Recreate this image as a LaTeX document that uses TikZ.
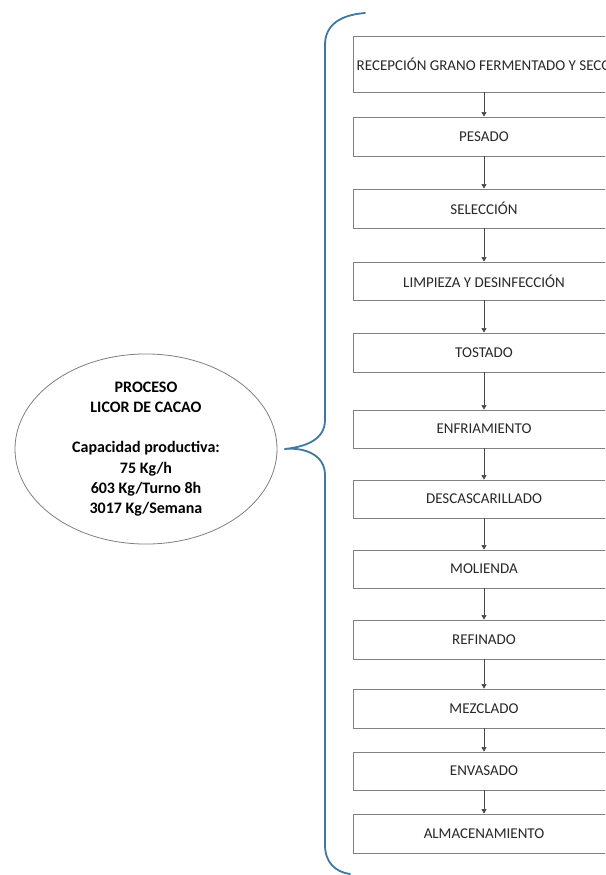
\documentclass[tikz,border=0pt]{standalone}
\usepackage{fontspec}
\setmainfont{Carlito}
\usetikzlibrary{shapes.geometric,arrows.meta}
\definecolor{bracecol}{RGB}{62,122,160}
\definecolor{boxcol}{RGB}{128,128,128}
\definecolor{txtcol}{RGB}{40,40,40}
\definecolor{arrcol}{RGB}{70,70,70}
\begin{document}
\begin{tikzpicture}[x=1pt,y=-1pt,
  stepbox/.style={draw=boxcol, line width=0.9pt, minimum width=262pt, inner sep=0pt,
     font=\fontsize{15}{17}\selectfont, text=txtcol},
  flow/.style={draw=arrcol, line width=0.6pt, -{Triangle[width=5pt,length=4.5pt]}},
  bracel/.style={draw=bracecol, line width=1.8pt, line cap=round},
  procell/.style={ellipse, draw=boxcol, line width=0.8pt, minimum width=262pt, minimum height=156pt,
     inner sep=0pt, align=center, text=black, font=\fontsize{16}{20.2}\selectfont\bfseries}]
\useasboundingbox (0,0) rectangle (605,875);
\clip (0,0) rectangle (605,875);
\fill[white] (0,0) rectangle (605,875);
% process boxes (centre x = 484)
\node[stepbox, minimum height=56pt] (b1) at (484,64) {RECEPCIÓN GRANO FERMENTADO Y SECO};
\node[stepbox, minimum height=39pt] (b2) at (484,136.5) {PESADO};
\node[stepbox, minimum height=39pt] (b3) at (484,208.5) {SELECCIÓN};
\node[stepbox, minimum height=38pt] (b4) at (484,281) {LIMPIEZA Y DESINFECCIÓN};
\node[stepbox, minimum height=39pt] (b5) at (484,352.5) {TOSTADO};
\node[stepbox, minimum height=38pt] (b6) at (484,429) {ENFRIAMIENTO};
\node[stepbox, minimum height=38pt] (b7) at (484,499) {DESCASCARILLADO};
\node[stepbox, minimum height=38pt] (b8) at (484,569) {MOLIENDA};
\node[stepbox, minimum height=39pt] (b9) at (484,639.5) {REFINADO};
\node[stepbox, minimum height=39pt] (b10) at (484,708.5) {MEZCLADO};
\node[stepbox, minimum height=38pt] (b11) at (484,771) {ENVASADO};
\node[stepbox, minimum height=39pt] (b12) at (484,833.5) {ALMACENAMIENTO};
\foreach \a/\b in {b1/b2,b2/b3,b3/b4,b4/b5,b5/b6,b6/b7,b7/b8,b8/b9,b9/b10,b10/b11,b11/b12}
  \draw[flow] (\a.south) -- (\b.north);
% ellipse
\node[procell] (e) at (146,449) {PROCESO\\LICOR DE CACAO\\[20.2pt]Capacidad productiva:\\75 Kg/h\\603 Kg/Turno 8h\\3017 Kg/Semana};
% brace
\coordinate (tip) at ([xshift=7pt]e.east);
\coordinate (btop) at (365,13);
\coordinate (bbot) at (350,874);
\draw[bracel] (btop) .. controls (340,15) and (325,25) .. (325,45) -- (325,420)
  .. controls (325,440) and (305,447) .. (tip)
  .. controls (305,447) and (325,455) .. (325,475) -- (325,845)
  .. controls (325,862) and (335,872) .. (bbot);
\end{tikzpicture}
\end{document}
